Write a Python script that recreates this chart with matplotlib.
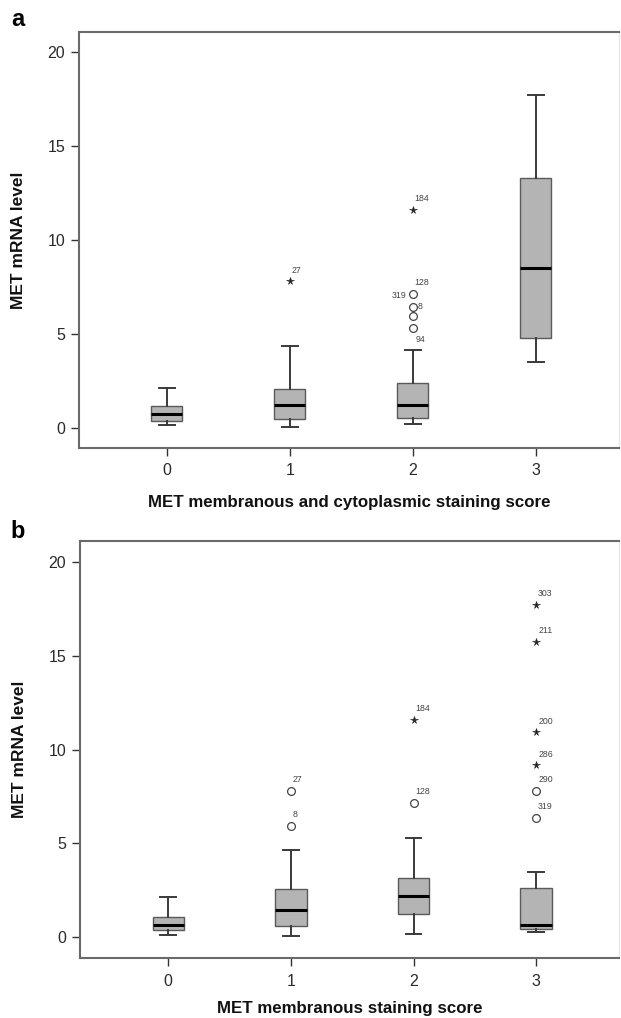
import matplotlib
matplotlib.use("Agg")
import matplotlib.pyplot as plt

plt.rcParams['font.family'] = ['Liberation Sans', 'DejaVu Sans']

categories = ['0', '1', '2', '3']

# Panel a: MET membranous and cytoplasmic staining score
a_whislo = [0.14, 0.05, 0.20, 3.48]
a_q1 = [0.37, 0.45, 0.50, 4.79]
a_med = [0.73, 1.21, 1.19, 8.51]
a_q3 = [1.15, 2.06, 2.39, 13.30]
a_whishi = [2.13, 4.35, 4.13, 17.68]
# outliers: kind 'o' mild, '*' extreme
a_out_group = [1, 2, 2, 2, 2, 2]
a_out_value = [7.80, 11.58, 7.13, 6.42, 5.94, 5.29]
a_out_label = ['27', '184', '128', '8', '319', '94']
a_out_kind = ['*', '*', 'o', 'o', 'o', 'o']

# Panel b: MET membranous staining score
b_whislo = [0.14, 0.07, 0.18, 0.27]
b_q1 = [0.39, 0.60, 1.22, 0.46]
b_med = [0.64, 1.44, 2.22, 0.67]
b_q3 = [1.10, 2.56, 3.16, 2.64]
b_whishi = [2.13, 4.67, 5.27, 3.50]
b_out_group = [1, 1, 2, 2, 3, 3, 3, 3, 3, 3]
b_out_value = [7.81, 5.93, 11.59, 7.17, 17.71, 15.74, 10.91, 9.17, 7.81, 6.37]
b_out_label = ['27', '8', '184', '128', '303', '211', '200', '286', '290', '319']
b_out_kind = ['o', 'o', '*', 'o', '*', '*', '*', '*', 'o', 'o']

yticks = [0, 5, 10, 15, 20]

# label placement (pixels offset, alignment) -- styling only
DEFAULT_OFF = (2, 11, 'left')
a_label_offsets = {3: (5, 0, 'left'), 4: (-6, 21, 'right'), 5: (3, -11, 'left')}
b_label_offsets = {}

W, H = 621, 1018
fig = plt.figure(figsize=(W / 100, H / 100), dpi=100)

FRAME = '#6a6a6a'
BOXFILL = '#b4b4b4'
BOXEDGE = '#5a5a5a'
TXT = '#2a2a2a'


def make_axes(l, r, t, b):
    return fig.add_axes([l / W, 1 - b / H, (r - l) / W, (b - t) / H])


def draw_panel(ax, whislo, q1, med, q3, whishi, og, ov, ol, ok, offs, xlim, ylim,
               xlabel, xlab_y):
    stats = []
    for i in range(len(categories)):
        stats.append(dict(whislo=whislo[i], q1=q1[i], med=med[i], q3=q3[i],
                          whishi=whishi[i], fliers=[]))
    pos = list(range(len(categories)))
    ax.bxp(stats, positions=pos, widths=0.255, patch_artist=True,
           showfliers=False,
           boxprops=dict(facecolor=BOXFILL, edgecolor=BOXEDGE, linewidth=1.0),
           medianprops=dict(color='black', linewidth=2.2),
           whiskerprops=dict(color='#3a3a3a', linewidth=1.4),
           capprops=dict(color='#3a3a3a', linewidth=1.4),
           capwidths=0.13)
    for i, (g, v, lab, k) in enumerate(zip(og, ov, ol, ok)):
        if k == '*':
            ax.plot([g], [v], marker='*', ms=5.5, color='#222222',
                    markeredgewidth=0.4, linestyle='none')
        else:
            ax.plot([g], [v], marker='o', ms=5.6, mfc='white', mec='#444444',
                    markeredgewidth=0.9, linestyle='none')
        if lab:
            dx, dy, ha = offs.get(i, DEFAULT_OFF)
            ax.annotate(lab, (g, v), xytext=(dx, dy), textcoords='offset pixels',
                        fontsize=6.3, color='#444444', ha=ha, va='center')
    ax.set_xlim(*xlim)
    ax.set_ylim(*ylim)
    ax.set_xticks(pos)
    ax.set_xticklabels(categories)
    ax.set_yticks(yticks)
    ax.tick_params(axis='both', direction='out', length=6, width=1.0,
                   color='#333333', labelsize=11.5, labelcolor=TXT)
    ax.tick_params(axis='x', pad=5)
    ax.tick_params(axis='y', pad=4)
    for s in ['left', 'bottom', 'top']:
        ax.spines[s].set_color(FRAME)
        ax.spines[s].set_linewidth(1.5)
    ax.spines['right'].set_color('#e4e4e4')
    ax.spines['right'].set_linewidth(0.8)
    ax.set_ylabel('MET mRNA level', fontsize=12.5, fontweight='bold',
                  color='#111111', va='center')
    ax.yaxis.set_label_coords(-0.112, 0.5)
    ax.set_xlabel(xlabel, fontsize=12.2, fontweight='bold', color='#111111',
                  va='center')
    ax.xaxis.set_label_coords(0.5, xlab_y)


axa = make_axes(79, 619, 31.7, 448)
draw_panel(axa, a_whislo, a_q1, a_med, a_q3, a_whishi,
           a_out_group, a_out_value, a_out_label, a_out_kind, a_label_offsets,
           (-0.713, 3.677), (-1.08, 21.06),
           'MET membranous and cytoplasmic staining score', -0.132)

axb = make_axes(80, 619, 540.7, 958.3)
draw_panel(axb, b_whislo, b_q1, b_med, b_q3, b_whishi,
           b_out_group, b_out_value, b_out_label, b_out_kind, b_label_offsets,
           (-0.72, 3.676), (-1.12, 21.12),
           'MET membranous staining score', -0.1214)

fig.text(18 / W, 1 - 20 / H, 'a', fontsize=17, fontweight='bold', ha='center', va='center')
fig.text(18 / W, 1 - 532 / H, 'b', fontsize=17, fontweight='bold', ha='center', va='center')

fig.savefig('out.png', dpi=100, facecolor='white')
